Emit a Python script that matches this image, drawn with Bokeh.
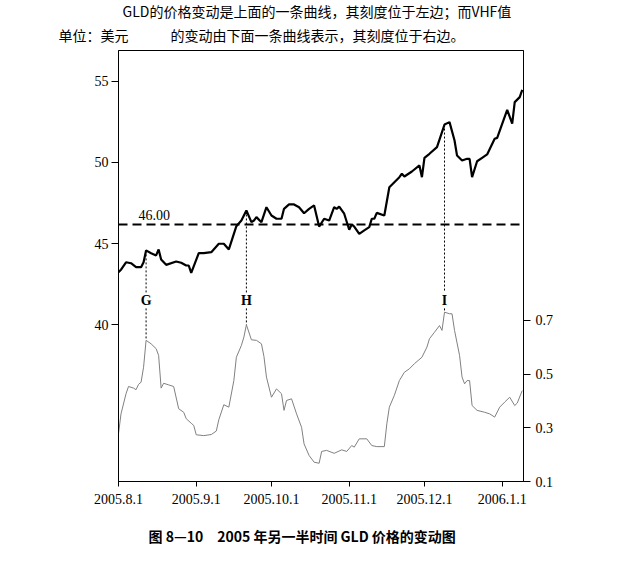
import numpy as np
import pandas as pd
from bokeh.plotting import figure
from bokeh.models import Range1d, LinearAxis, FixedTicker, Label, Title
from bokeh.core.properties import value
from bokeh.embed import file_html
from bokeh.resources import INLINE

# ---------------- data ----------------
gld_dates = [
    "2005-08-01", "2005-08-02", "2005-08-04", "2005-08-06", "2005-08-08", "2005-08-10",
    "2005-08-11", "2005-08-12", "2005-08-14", "2005-08-16", "2005-08-17", "2005-08-18",
    "2005-08-20", "2005-08-24", "2005-08-26", "2005-08-28", "2005-08-29", "2005-08-30",
    "2005-09-02", "2005-09-04", "2005-09-07", "2005-09-10", "2005-09-12", "2005-09-14",
    "2005-09-17", "2005-09-19", "2005-09-21", "2005-09-23", "2005-09-24", "2005-09-25",
    "2005-09-27", "2005-09-29", "2005-10-01", "2005-10-03", "2005-10-05", "2005-10-06",
    "2005-10-08", "2005-10-10", "2005-10-12", "2005-10-14", "2005-10-16", "2005-10-18",
    "2005-10-20", "2005-10-22", "2005-10-24", "2005-10-26", "2005-10-27", "2005-10-28",
    "2005-10-30", "2005-11-01", "2005-11-02", "2005-11-03", "2005-11-05", "2005-11-07",
    "2005-11-09", "2005-11-10", "2005-11-11", "2005-11-12", "2005-11-15", "2005-11-17",
    "2005-11-19", "2005-11-21", "2005-11-22", "2005-11-23", "2005-11-26", "2005-11-29",
    "2005-11-30", "2005-12-01", "2005-12-03", "2005-12-06", "2005-12-09", "2005-12-11",
    "2005-12-13", "2005-12-14", "2005-12-16", "2005-12-18", "2005-12-19", "2005-12-20",
    "2005-12-22", "2005-12-24", "2005-12-26", "2005-12-29", "2005-12-30", "2006-01-03",
    "2006-01-05", "2006-01-06", "2006-01-08", "2006-01-09",
]
gld_values = [
    43.24, 43.39, 43.85, 43.79, 43.55, 43.55,
    43.85, 44.58, 44.41, 44.27, 44.64, 44.02,
    43.69, 43.90, 43.82, 43.65, 43.65, 43.20,
    44.41, 44.41, 44.47, 44.99, 44.99, 44.64,
    46.07, 46.42, 47.04, 46.32, 46.42, 46.63,
    46.32, 47.24, 46.73, 46.53, 46.53, 47.14,
    47.41, 47.41, 47.24, 46.87, 47.14, 47.35,
    46.05, 46.53, 46.42, 47.24, 47.14, 47.28,
    46.84, 45.85, 46.18, 46.05, 45.60, 45.81,
    46.01, 46.53, 46.53, 46.89, 46.73, 48.47,
    48.78, 49.09, 49.30, 49.13, 49.44, 49.81,
    49.09, 50.28, 50.53, 50.94, 52.33, 52.48,
    51.35, 50.42, 50.12, 50.22, 50.22, 49.09,
    50.07, 50.28, 50.49, 51.45, 51.51, 53.24,
    52.38, 53.71, 54.02, 54.47,
]

vhf_dates = [
    "2005-08-01", "2005-08-02", "2005-08-04", "2005-08-05", "2005-08-07", "2005-08-08",
    "2005-08-09", "2005-08-10", "2005-08-11", "2005-08-12", "2005-08-14", "2005-08-16",
    "2005-08-17", "2005-08-18", "2005-08-19", "2005-08-21", "2005-08-23", "2005-08-25",
    "2005-08-27", "2005-08-28", "2005-08-30", "2005-08-31", "2005-09-01", "2005-09-04",
    "2005-09-07", "2005-09-09", "2005-09-10", "2005-09-12", "2005-09-14", "2005-09-16",
    "2005-09-17", "2005-09-19", "2005-09-20", "2005-09-21", "2005-09-23", "2005-09-25",
    "2005-09-27", "2005-09-28", "2005-09-29", "2005-10-01", "2005-10-03", "2005-10-05",
    "2005-10-06", "2005-10-07", "2005-10-09", "2005-10-11", "2005-10-13", "2005-10-14",
    "2005-10-16", "2005-10-18", "2005-10-20", "2005-10-21", "2005-10-23", "2005-10-26",
    "2005-10-29", "2005-10-31", "2005-11-02", "2005-11-03", "2005-11-05", "2005-11-08",
    "2005-11-10", "2005-11-12", "2005-11-15", "2005-11-16", "2005-11-17", "2005-11-19",
    "2005-11-21", "2005-11-23", "2005-11-25", "2005-11-27", "2005-11-30", "2005-12-02",
    "2005-12-03", "2005-12-05", "2005-12-07", "2005-12-08", "2005-12-09", "2005-12-11",
    "2005-12-12", "2005-12-13", "2005-12-15", "2005-12-16", "2005-12-17", "2005-12-18",
    "2005-12-19", "2005-12-20", "2005-12-22", "2005-12-25", "2005-12-27", "2005-12-29",
    "2005-12-31", "2006-01-02", "2006-01-04", "2006-01-06", "2006-01-07", "2006-01-09",
]
vhf_values = [
    0.278, 0.352, 0.427, 0.454, 0.448, 0.442,
    0.462, 0.470, 0.526, 0.626, 0.613, 0.595,
    0.570, 0.448, 0.466, 0.460, 0.454, 0.371,
    0.358, 0.334, 0.317, 0.309, 0.274, 0.271,
    0.275, 0.288, 0.330, 0.386, 0.377, 0.476,
    0.563, 0.607, 0.638, 0.684, 0.628, 0.626,
    0.613, 0.566, 0.489, 0.414, 0.445, 0.427,
    0.365, 0.402, 0.408, 0.352, 0.302, 0.240,
    0.197, 0.172, 0.168, 0.212, 0.216, 0.205,
    0.218, 0.212, 0.234, 0.228, 0.259, 0.259,
    0.234, 0.230, 0.230, 0.315, 0.377, 0.421,
    0.476, 0.507, 0.520, 0.539, 0.563, 0.601,
    0.632, 0.656, 0.681, 0.663, 0.731, 0.725,
    0.725, 0.663, 0.570, 0.489, 0.464, 0.476,
    0.476, 0.383, 0.365, 0.358, 0.352, 0.340,
    0.377, 0.396, 0.414, 0.383, 0.392, 0.439,
]

level_value = 46.18
level_text = "46.00"

marker_names = ["G", "H", "I"]
marker_dates = ["2005-08-12", "2005-09-21", "2005-12-09"]

x_tick_dates = ["2005-08-01", "2005-09-01", "2005-10-01", "2005-11-01", "2005-12-01", "2006-01-01"]
x_tick_labels = ["2005.8.1", "2005.9.1", "2005.10.1", "2005.11.1", "2005.12.1", "2006.1.1"]
left_ticks = [40, 45, 50, 55]
right_ticks = [0.1, 0.3, 0.5, 0.7]

title_line1 = "GLD的价格变动是上面的一条曲线，其刻度位于左边；而VHF值"
title_line2 = "的变动由下面一条曲线表示，其刻度位于右边。"
unit_text = "单位：美元"
caption_text = "图 8—10　2005 年另一半时间 GLD 价格的变动图"

# ---------------- figure ----------------
SERIF = "Liberation Serif"
CJK = "Noto Sans CJK SC"

gx = pd.to_datetime(gld_dates)
vx = pd.to_datetime(vhf_dates)
mx = pd.to_datetime(marker_dates)

p = figure(
    width=619, height=562,
    x_axis_type="datetime",
    x_range=Range1d(pd.Timestamp("2005-08-01"), pd.Timestamp("2006-01-09 12:00")),
    y_range=Range1d(30.35, 56.89),
    output_backend="svg", toolbar_location=None,
    min_border_left=118, min_border_right=96, min_border_top=50, min_border_bottom=81,
)
p.extra_y_ranges = {"vhf": Range1d(0.1, 1.706)}
p.xgrid.grid_line_color = None
p.ygrid.grid_line_color = None
p.outline_line_color = "black"
p.outline_line_width = 1
p.background_fill_color = "white"
p.border_fill_color = "white"

# x axis
tick_ms = [float((pd.Timestamp(d) - pd.Timestamp("1970-01-01")) / pd.Timedelta(milliseconds=1)) for d in x_tick_dates]
p.xaxis.ticker = FixedTicker(ticks=tick_ms)
p.xaxis.major_label_overrides = {t: lab for t, lab in zip(tick_ms, x_tick_labels)}
p.xaxis.minor_tick_line_color = None
p.xaxis.major_tick_out = 5
p.xaxis.major_tick_in = 0
p.xaxis.major_label_standoff = 7

# left axis
p.yaxis.ticker = FixedTicker(ticks=left_ticks)
p.yaxis.minor_tick_line_color = None
p.yaxis.major_tick_out = 7
p.yaxis.major_tick_in = 0
p.yaxis.major_label_standoff = 3

right = LinearAxis(y_range_name="vhf", ticker=FixedTicker(ticks=right_ticks))
right.minor_tick_line_color = None
right.major_tick_out = 7
right.major_tick_in = 0
right.major_label_standoff = 5
p.add_layout(right, "right")

for ax in [p.xaxis[0], p.yaxis[0], right]:
    ax.major_label_text_font = SERIF
    ax.major_label_text_font_size = "14px"
    ax.major_label_text_color = "black"
    ax.axis_line_color = "black"
    ax.major_tick_line_color = "black"

# lines
p.line(vx, vhf_values, y_range_name="vhf", line_color="#808080", line_width=1)
p.line(gx, gld_values, line_color="black", line_width=2.2)

# resistance level
p.line([p.x_range.start, p.x_range.end], [level_value, level_value],
       line_color="black", line_width=2, line_dash="9 5")
p.add_layout(Label(x=pd.Timestamp("2005-08-09"), y=level_value, text=level_text,
                   text_font=SERIF, text_font_size="14px", text_baseline="bottom",
                   text_align="left", y_offset=4, text_color="black"))

# markers
g_ns = gx.asi8
v_ns = vx.asi8
m_ns = mx.asi8
gld_at = np.interp(m_ns, g_ns, gld_values)
vhf_at = np.interp(m_ns, v_ns, vhf_values)
upper_stop = 41.99
lower_start = 0.745
label_level = 0.775
p.segment(x0=mx, y0=gld_at, x1=mx, y1=[upper_stop] * len(mx),
          line_color="black", line_width=1, line_dash="2 2")
p.segment(x0=mx, y0=[lower_start] * len(mx), x1=mx, y1=vhf_at, y_range_name="vhf",
          line_color="black", line_width=1, line_dash="2 2")
p.text(x=mx, y=[label_level] * len(mx), text=marker_names, y_range_name="vhf",
       text_font=value(SERIF), text_font_style="bold", text_font_size="14px",
       text_align="center", text_baseline="middle", text_color="black")

# texts outside the frame (titles; the first "above" title is nearest the frame)
row2 = unit_text + "\u3000\u3000\u3000" + title_line2
p.add_layout(Title(text=row2, align="left", text_font=CJK, text_font_size="14px",
                   text_font_style="normal", text_color="black", standoff=11, offset=-60), "above")
p.add_layout(Title(text=title_line1, align="left", text_font=CJK, text_font_size="14px",
                   text_font_style="normal", text_color="black", standoff=-6, offset=4), "above")
p.add_layout(Title(text=caption_text, align="left", text_font=CJK, text_font_size="14px",
                   text_font_style="bold", text_color="black", standoff=34, offset=30), "below")

open("out.html", "w").write(file_html(p, INLINE))
